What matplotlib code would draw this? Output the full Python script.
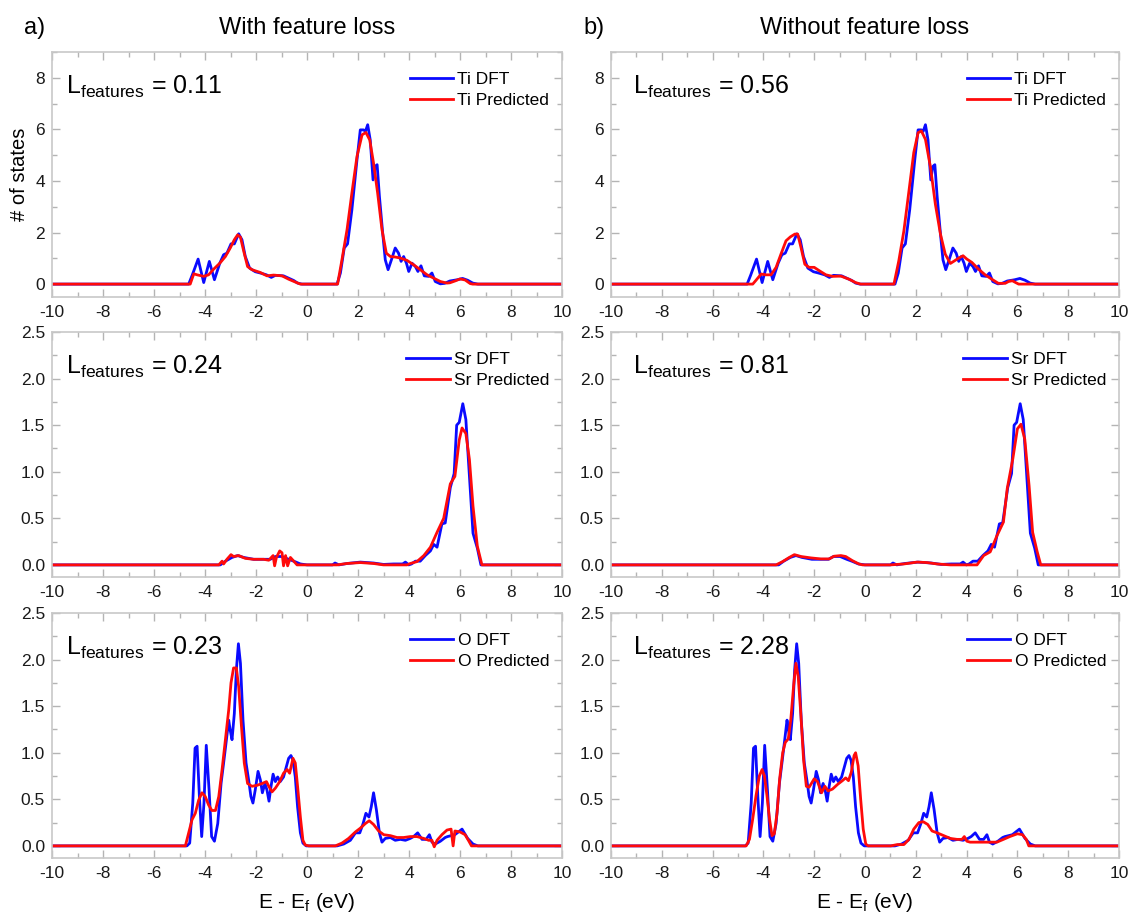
import matplotlib
matplotlib.use("Agg")
import matplotlib.pyplot as plt
from matplotlib.ticker import MultipleLocator, FormatStrFormatter

plt.rcParams['font.family'] = ['Liberation Sans', 'DejaVu Sans']
plt.rcParams['mathtext.fontset'] = 'custom'
plt.rcParams['mathtext.rm'] = 'Liberation Sans'
plt.rcParams['mathtext.it'] = 'Liberation Sans:italic'
plt.rcParams['axes.unicode_minus'] = False

# ---------------- data ----------------
# Ti DFT (same reference curve in both columns)
ti_dft_e = [-10, -4.64, -4.5, -4.27, -4.05, -3.83, -3.63, -3.42, -3.27, -3.14,
            -2.98, -2.85, -2.68, -2.55, -2.42, -2.25, -2.03, -1.83, -1.59, -1.40,
            -1.24, -0.92, -0.72, -0.52, -0.37, -0.2, 1.18, 1.31, 1.46, 1.59,
            1.76, 1.96, 2.09, 2.22, 2.29, 2.38, 2.48, 2.59, 2.67, 2.75,
            2.84, 2.98, 3.07, 3.18, 3.31, 3.46, 3.59, 3.69, 3.79, 3.90,
            3.99, 4.12, 4.25, 4.35, 4.47, 4.60, 4.77, 4.90, 5.03, 5.23,
            5.4, 5.6, 5.9, 6.1, 6.3, 6.5, 6.7, 10]
ti_dft = [0, 0, 0.35, 0.97, 0.06, 0.88, 0.17, 0.81, 1.14, 1.2,
          1.56, 1.56, 1.95, 1.72, 1.07, 0.62, 0.48, 0.43, 0.36, 0.26,
          0.34, 0.32, 0.23, 0.14, 0.04, 0, 0, 0.43, 1.40, 1.56,
          2.88, 4.82, 5.98, 5.98, 5.92, 6.18, 5.59, 4.04, 4.56, 4.63,
          3.40, 1.85, 0.94, 0.56, 0.94, 1.40, 1.20, 0.88, 1.07, 0.81,
          0.49, 0.81, 0.68, 0.49, 0.71, 0.32, 0.30, 0.43, 0.10, 0.01,
          0.03, 0.12, 0.17, 0.22, 0.15, 0.04, 0, 0]

# Ti predicted, with feature loss
ti_pred_a_e = [-10, -4.58, -4.44, -4.31, -4.05, -3.86, -3.66, -3.42, -3.20, -3.01,
               -2.85, -2.72, -2.61, -2.48, -2.33, -2.16, -1.83, -1.57, -1.31, -0.98,
               -0.72, -0.46, -0.26, 1.2, 1.37, 1.57, 1.76, 1.96, 2.16, 2.31,
               2.46, 2.61, 2.77, 2.94, 3.11, 3.27, 3.46, 3.66, 3.92, 4.18,
               4.44, 4.71, 4.97, 5.23, 5.49, 5.6, 5.8, 6.0, 6.2, 6.4,
               6.5, 10]
ti_pred_a = [0, 0, 0.40, 0.36, 0.30, 0.36, 0.58, 0.81, 1.07, 1.40,
             1.72, 1.91, 1.82, 1.27, 0.68, 0.56, 0.45, 0.32, 0.35, 0.32,
             0.19, 0.08, 0, 0, 0.94, 2.11, 3.53, 4.95, 5.79, 5.88,
             5.59, 4.69, 3.53, 2.11, 1.20, 1.07, 1.05, 1.01, 0.92, 0.75,
             0.56, 0.36, 0.23, 0.10, 0.04, 0.05, 0.12, 0.2, 0.16, 0.02,
             0, 0]

# Ti predicted, without feature loss
ti_pred_b_e = [-10, -4.42, -4.29, -4.09, -3.90, -3.70, -3.50, -3.31, -3.11, -2.94,
               -2.76, -2.65, -2.52, -2.37, -2.20, -2.00, -1.80, -1.54, -1.28, -0.95,
               -0.63, -0.37, -0.17, 1.14, 1.33, 1.53, 1.73, 1.92, 2.09, 2.22,
               2.38, 2.58, 2.77, 2.97, 3.16, 3.36, 3.52, 3.69, 3.86, 4.01,
               4.21, 4.47, 4.73, 4.99, 5.25, 5.52, 5.65, 5.8, 5.95, 6.05,
               10]
ti_pred_b = [0, 0, 0.15, 0.39, 0.36, 0.36, 0.65, 1.16, 1.68, 1.83,
             1.94, 1.94, 1.42, 0.77, 0.65, 0.65, 0.52, 0.36, 0.30, 0.31,
             0.19, 0.06, 0, 0, 0.90, 2.06, 3.61, 5.10, 5.87, 5.94,
             5.61, 4.52, 3.10, 1.94, 1.16, 0.80, 0.90, 1.01, 1.10, 0.97,
             0.84, 0.58, 0.36, 0.19, 0.03, 0.03, 0.1, 0.13, 0.05, 0,
             0]

# Sr DFT
sr_dft_e = [-10, -3.4, -3.2, -2.94, -2.72, -2.48, -2.09, -1.70, -1.44, -1.24,
            -0.98, -0.72, -0.52, -0.26, 0, 1.0, 1.1, 1.25, 1.57, 2.09,
            2.61, 3.0, 3.4, 3.75, 3.86, 3.99, 4.1, 4.25, 4.44, 4.64,
            4.84, 4.97, 5.10, 5.29, 5.42, 5.62, 5.77, 5.87, 5.97, 6.11,
            6.23, 6.37, 6.51, 6.68, 6.82, 10]
sr_dft = [0, 0, 0.04, 0.08, 0.10, 0.08, 0.06, 0.06, 0.06, 0.09,
          0.09, 0.06, 0.04, 0.01, 0, 0, 0.02, 0, 0.015, 0.03,
          0.02, 0.005, 0.01, 0.01, 0.03, 0, 0.01, 0.04, 0.04, 0.10,
          0.15, 0.22, 0.19, 0.44, 0.45, 0.83, 0.98, 1.50, 1.53, 1.73,
          1.56, 0.95, 0.34, 0.18, 0, 0]

sr_pred_a_e = [-10, -3.46, -3.33, -3.27, -3.14, -2.98, -2.88, -2.68, -2.42, -2.09,
               -1.70, -1.50, -1.33, -1.27, -1.20, -1.07, -0.98, -0.92, -0.84, -0.76,
               -0.65, -0.52, -0.39, 1.18, 1.57, 2.09, 2.61, 3.0, 3.92, 4.05,
               4.31, 4.58, 4.84, 5.10, 5.36, 5.62, 5.80, 5.97, 6.08, 6.23,
               6.37, 6.51, 6.68, 6.86, 10]
sr_pred_a = [0, 0, 0.04, 0.01, 0.06, 0.11, 0.09, 0.10, 0.07, 0.06,
             0.06, 0.05, 0.10, -0.01, 0.08, 0.15, 0.13, -0.01, 0.10, -0.01,
             0.08, 0.04, 0, 0, 0.015, 0.025, 0.015, 0, 0, 0.015,
             0.035, 0.10, 0.19, 0.35, 0.50, 0.87, 0.95, 1.34, 1.47, 1.41,
             1.13, 0.63, 0.20, 0, 0]

sr_pred_b_e = [-10, -3.50, -3.24, -2.98, -2.78, -2.52, -2.13, -1.74, -1.41, -1.22,
               -0.95, -0.76, -0.50, -0.24, -0.1, 1.0, 1.53, 2.05, 2.44, 2.84,
               3.36, 4.41, 4.67, 4.93, 5.19, 5.45, 5.60, 5.82, 6.00, 6.14,
               6.29, 6.46, 6.60, 6.78, 6.92, 10]
sr_pred_b = [0, 0, 0.036, 0.08, 0.11, 0.09, 0.075, 0.064, 0.064, 0.093,
             0.10, 0.09, 0.046, 0.01, 0, 0, 0.01, 0.03, 0.025, 0.01,
             0, 0, 0.10, 0.14, 0.31, 0.46, 0.82, 1.14, 1.46, 1.51,
             1.35, 0.85, 0.35, 0.14, 0, 0]

# O DFT
o_dft_e = [-10, -4.71, -4.60, -4.48, -4.39, -4.31, -4.22, -4.13, -4.04, -3.95,
           -3.84, -3.74, -3.63, -3.50, -3.37, -3.27, -3.16, -3.07, -3.01, -2.94,
           -2.85, -2.77, -2.69, -2.61, -2.51, -2.39, -2.29, -2.20, -2.12, -2.03,
           -1.92, -1.83, -1.75, -1.65, -1.57, -1.49, -1.41, -1.33, -1.24, -1.15,
           -1.05, -0.92, -0.81, -0.72, -0.63, -0.55, -0.46, -0.37, -0.26, -0.16,
           -0.03, 1.18, 1.44, 1.70, 1.90, 2.07, 2.20, 2.31, 2.43, 2.52,
           2.61, 2.72, 2.84, 2.94, 3.07, 3.27, 3.46, 3.66, 3.86, 4.05,
           4.18, 4.34, 4.51, 4.67, 4.80, 4.90, 5.03, 5.23, 5.42, 5.51,
           5.80, 6.08, 6.30, 6.51, 6.7, 10]
o_dft = [0, 0, 0.03, 0.46, 1.05, 1.07, 0.53, 0.10, 0.46, 1.08,
         0.60, 0.10, 0.05, 0.24, 0.67, 0.89, 1.14, 1.35, 1.24, 1.14,
         1.42, 1.89, 2.17, 1.96, 1.35, 0.89, 0.71, 0.53, 0.46, 0.60,
         0.80, 0.71, 0.57, 0.67, 0.60, 0.48, 0.64, 0.77, 0.69, 0.74,
         0.69, 0.74, 0.85, 0.94, 0.97, 0.92, 0.74, 0.42, 0.14, 0.03,
         0, 0, 0.02, 0.06, 0.14, 0.14, 0.24, 0.35, 0.31, 0.42,
         0.57, 0.39, 0.14, 0.04, 0.08, 0.09, 0.06, 0.07, 0.06, 0.08,
         0.10, 0.14, 0.07, 0.07, 0.12, 0.04, 0.02, 0.05, 0.09, 0.10,
         0.12, 0.18, 0.08, 0.02, 0, 0]

o_pred_a_e = [-10, -4.77, -4.64, -4.51, -4.38, -4.25, -4.12, -3.99, -3.86, -3.73,
              -3.59, -3.46, -3.33, -3.20, -3.07, -2.98, -2.88, -2.77, -2.68, -2.58,
              -2.46, -2.33, -2.16, -1.96, -1.76, -1.59, -1.50, -1.37, -1.24, -1.07,
              -0.92, -0.78, -0.68, -0.55, -0.46, -0.37, -0.26, -0.16, -0.07, 0.07,
              1.11, 1.37, 1.63, 1.90, 2.09, 2.29, 2.44, 2.61, 2.81, 3.01,
              3.27, 3.53, 3.79, 4.05, 4.31, 4.58, 4.77, 4.90, 4.99, 5.10,
              5.29, 5.49, 5.65, 5.73, 5.80, 6.0, 6.2, 6.35, 6.45, 10]
o_pred_a = [0, 0, 0.14, 0.28, 0.35, 0.49, 0.57, 0.53, 0.44, 0.38,
            0.38, 0.53, 0.82, 1.14, 1.46, 1.75, 1.91, 1.91, 1.71, 1.32,
            0.89, 0.67, 0.64, 0.65, 0.67, 0.69, 0.64, 0.58, 0.62, 0.69,
            0.78, 0.82, 0.78, 0.94, 0.89, 0.64, 0.31, 0.06, 0.01, 0,
            0, 0.03, 0.08, 0.15, 0.19, 0.24, 0.27, 0.23, 0.16, 0.12,
            0.11, 0.09, 0.09, 0.10, 0.10, 0.08, 0.06, 0.06, -0.01, 0.06,
            0.12, 0.17, 0.18, 0, 0.16, 0.15, 0.12, 0.05, 0, 0]

o_pred_b_e = [-10, -4.68, -4.55, -4.42, -4.29, -4.16, -4.05, -3.96, -3.86, -3.76,
              -3.66, -3.57, -3.46, -3.36, -3.24, -3.14, -3.02, -2.92, -2.81, -2.72,
              -2.63, -2.52, -2.42, -2.31, -2.20, -2.00, -1.87, -1.71, -1.58, -1.45,
              -1.28, -1.08, -0.89, -0.76, -0.65, -0.54, -0.43, -0.37, -0.27, -0.17,
              -0.07, 0.03, 0.12, 1.01, 1.27, 1.53, 1.73, 1.92, 2.12, 2.29,
              2.47, 2.64, 2.84, 3.10, 3.36, 3.62, 3.82, 3.91, 4.01, 4.14,
              4.41, 4.67, 4.93, 5.19, 5.45, 5.7, 6.0, 6.2, 6.35, 6.45, 10]
o_pred_b = [0, 0, 0.07, 0.29, 0.54, 0.75, 0.82, 0.75, 0.54, 0.29,
            0.11, 0.13, 0.36, 0.72, 1.00, 1.11, 1.15, 1.36, 1.72, 1.96,
            1.82, 1.39, 0.93, 0.64, 0.63, 0.72, 0.69, 0.57, 0.64, 0.59,
            0.61, 0.66, 0.70, 0.73, 0.70, 0.79, 0.97, 1.00, 0.86, 0.50,
            0.18, 0.02, 0, 0, 0.014, 0.014, 0.07, 0.18, 0.25, 0.26,
            0.23, 0.16, 0.14, 0.11, 0.08, 0.07, 0.07, 0.10, 0.05, 0.04,
            0.04, 0.04, 0.04, 0.04, 0.07, 0.10, 0.13, 0.12, 0.07, 0, 0]

elements = ['Ti', 'Sr', 'O']
loss_a = ['0.11', '0.24', '0.23']
loss_b = ['0.56', '0.81', '2.28']
col_titles = ['With feature loss', 'Without feature loss']
col_letters = ['a)', 'b)']

# ---------------- layout (pixel geometry of the original) ----------------
W, H = 1131, 915
fig = plt.figure(figsize=(W / 100, H / 100), dpi=100)

col_x = [(52, 510), (611, 508)]          # left, width in px
row_y = [(52, 245), (332, 245), (613, 245)]  # top, height in px

dft = [(ti_dft_e, ti_dft), (sr_dft_e, sr_dft), (o_dft_e, o_dft)]
pred = [[(ti_pred_a_e, ti_pred_a), (ti_pred_b_e, ti_pred_b)],
        [(sr_pred_a_e, sr_pred_a), (sr_pred_b_e, sr_pred_b)],
        [(o_pred_a_e, o_pred_a), (o_pred_b_e, o_pred_b)]]
losses = [loss_a, loss_b]
grey = '#b4b4b4'

for r in range(3):
    for c in range(2):
        x0, w = col_x[c]
        y0, h = row_y[r]
        ax = fig.add_axes([x0 / W, 1 - (y0 + h) / H, w / W, h / H])
        ax.plot(dft[r][0], dft[r][1], color='#0a0aff', lw=2.0, label=elements[r] + ' DFT')
        ax.plot(pred[r][c][0], pred[r][c][1], color='#ff0a0a', lw=2.0,
                label=elements[r] + ' Predicted')
        ax.set_xlim(-10, 10)
        ax.xaxis.set_major_locator(MultipleLocator(2))
        ax.xaxis.set_minor_locator(MultipleLocator(1))
        if r == 0:
            ax.set_ylim(-0.5, 9)
            ax.yaxis.set_major_locator(MultipleLocator(2))
            ax.yaxis.set_minor_locator(MultipleLocator(1))
        else:
            ax.set_ylim(-0.13, 2.5)
            ax.yaxis.set_major_locator(MultipleLocator(0.5))
            ax.yaxis.set_minor_locator(MultipleLocator(0.25))
            ax.yaxis.set_major_formatter(FormatStrFormatter('%.1f'))
        for s in ax.spines.values():
            s.set_color('#c8c8c8')
            s.set_linewidth(1.2)
        ax.tick_params(which='both', direction='in', top=True, right=True,
                       color=grey, labelsize=12.5, labelcolor='#1a1a1a')
        ax.tick_params(which='major', length=6, width=1)
        ax.tick_params(which='minor', length=3.5, width=1)
        ax.tick_params(axis='x', pad=6)
        ax.tick_params(axis='y', pad=5)

        lx = 0.028 if c == 0 else 0.043
        ax.text(lx, 0.83, r'L$_\mathrm{features}$ = ' + losses[c][r],
                transform=ax.transAxes, fontsize=18, va='baseline', ha='left')
        ax.legend(loc='upper right', bbox_to_anchor=(0.975, 0.92), frameon=False,
                  fontsize=12.5, handlelength=2.5, handletextpad=0.25,
                  labelspacing=0.35, borderaxespad=0, borderpad=0)

        if r == 0 and c == 0:
            ax.set_ylabel('# of states', fontsize=14.5)
            ax.yaxis.set_label_coords(-23 / w, 0.5)

for c in range(2):
    x0, w = col_x[c]
    fig.text((x0 + w / 2) / W, 1 - 28 / H, col_titles[c], fontsize=17,
             ha='center', va='center')
    fig.text((x0 - 17) / W, 1 - 28 / H, col_letters[c], fontsize=17,
             ha='center', va='center')
    fig.text((x0 + w / 2) / W, 1 - 903 / H, r'E - E$_\mathrm{f}$ (eV)', fontsize=15,
             ha='center', va='center')

fig.savefig('out.png', dpi=100)
